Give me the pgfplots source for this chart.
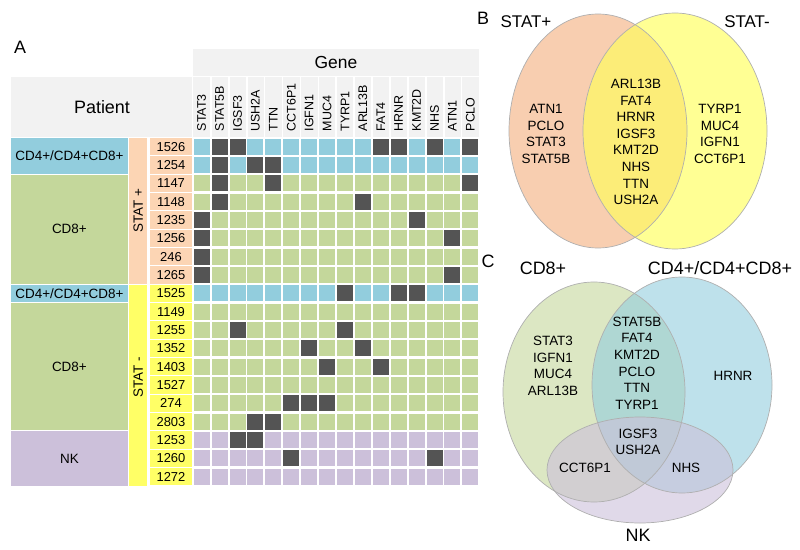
\documentclass[border=0pt]{standalone}
\usepackage{pgfplots}
\usepackage{pgfplotstable}
\pgfplotsset{compat=1.18}
\usepackage{fontspec}
\setmainfont{Liberation Sans}
\definecolor{cblue}{RGB}{146,205,221}
\definecolor{cgreen}{RGB}{196,215,155}
\definecolor{cpurple}{RGB}{204,192,218}
\definecolor{cdark}{RGB}{84,84,84}
\definecolor{cpeach}{RGB}{252,213,180}
\definecolor{cyellow}{RGB}{255,255,102}
\definecolor{chead}{RGB}{242,242,242}
\definecolor{vpeach}{RGB}{248,206,176}
\definecolor{vyellow}{RGB}{255,255,90}
\definecolor{vgreen}{RGB}{196,215,155}
\definecolor{vblue}{RGB}{146,205,221}
\definecolor{vpurple}{RGB}{204,192,218}
\definecolor{vedge}{RGB}{175,175,175}

% heatmap: b = CD4 (blue), g = CD8 (green), p = NK (purple), d = mutated (dark)
\pgfplotstableread{
r c0 c1 c2 c3 c4 c5 c6 c7 c8 c9 c10 c11 c12 c13 c14 c15
0 b d d b b b b b b b d d b d b d
1 b d b d d b b b b b b b b b b b
2 g d g g d g g g g g g g g g g d
3 g d g g g g g g g d g g g g g g
4 d g g g g g g g g g g g d g g g
5 d g g g g g g g g g g g g g d g
6 d g g g g g g g g g g g g g g g
7 d g g g g g g g g g g g g g d g
8 b b b b b b b b d b b d d b b b
9 g g g g g g g g g g g g g g g g
10 g g d g g g g g d g g g g g g g
11 g g g g g g d g g d g g g g g g
12 g g g g g g g d g g d g g g g g
13 g g g g g g g g g g g g g g g g
14 g g g g g d d d g g g g g g g g
15 g g g d d g g g g g g g g g g g
16 p p d d p p p p p p p p p p p p
17 p p p p p d p p p p p p p d p p
18 p p p p p p p p p p p p p p p p
}\cells

\newcommand{\fs}[2]{\fontsize{#1}{#2}\selectfont}

\begin{document}
\begin{tikzpicture}
\begin{axis}[
  width=800bp, height=550bp, scale only axis,
  xmin=0, xmax=800, ymin=0, ymax=550, y dir=reverse,
  hide axis, clip=false,
]
\path (axis cs:0,0) rectangle (axis cs:800,550);

% ---------- Panel A ----------
\node[font=\fs{18}{20}] at (axis cs:20,47) {A};
% gene header
\fill[chead] (axis cs:193,49) rectangle (axis cs:479,76);
\node[font=\fs{17.5}{20}] at (axis cs:336,62.5) {Gene};
\fill[chead] (axis cs:193,77.5) rectangle (axis cs:479,136.8);
\pgfplotsinvokeforeach{1,...,15}{
  \draw[white, line width=1.6bp] (axis cs:{193+17.91*#1},77.5) -- (axis cs:{193+17.91*#1},136.8);
}
% patient header
\fill[chead] (axis cs:11,77.5) rectangle (axis cs:191.7,136.8);
\node[font=\fs{18}{20}] at (axis cs:102,107) {Patient};

% gene labels
\pgfplotsforeachungrouped \j/\g in {0/STAT3,1/STAT5B,2/IGSF3,3/USH2A,4/TTN,5/CCT6P1,6/IGFN1,7/MUC4,8/TYRP1,9/ARL13B,10/FAT4,11/HRNR,12/KMT2D,13/NHS,14/ATN1,15/PCLO}{
  \edef\tmp{\noexpand\node[rotate=90, anchor=west, inner sep=0pt, font=\noexpand\fs{12.5}{14}] at (axis cs:{201.7+17.91*\j},131.5) {\g};}
  \tmp
}

% cell type column
\fill[cblue]   (axis cs:11,138.1) rectangle (axis cs:127.7,173.6);
\fill[cgreen]  (axis cs:11,174.8) rectangle (axis cs:127.7,283.6);
\fill[cblue]   (axis cs:11,284.7) rectangle (axis cs:127.7,301.9);
\fill[cgreen]  (axis cs:11,303.1) rectangle (axis cs:127.7,430.3);
\fill[cpurple] (axis cs:11,431.4) rectangle (axis cs:127.7,486.0);
\node[font=\fs{13.5}{16}] at (axis cs:69.4,155.8) {CD4+/CD4+CD8+};
\node[font=\fs{13.5}{16}] at (axis cs:69.4,229.2) {CD8+};
\node[font=\fs{13.5}{16}] at (axis cs:69.4,293.3) {CD4+/CD4+CD8+};
\node[font=\fs{13.5}{16}] at (axis cs:69.4,366.7) {CD8+};
\node[font=\fs{13.5}{16}] at (axis cs:69.4,458.7) {NK};

% STAT column
\fill[cpeach]  (axis cs:129,138.1) rectangle (axis cs:147.3,283.6);
\fill[cyellow] (axis cs:129,284.7) rectangle (axis cs:147.3,486.0);
\node[rotate=90, font=\fs{13.5}{16}] at (axis cs:138.3,210.5) {STAT +};
\node[rotate=90, font=\fs{13.5}{16}] at (axis cs:138.3,377) {STAT -};

% patient IDs
\pgfplotsforeachungrouped \i/\p in {0/1526,1/1254,2/1147,3/1148,4/1235,5/1256,6/246,7/1265}{
  \edef\tmp{\noexpand\fill[cpeach] (axis cs:150,{146.7+18.33*\i-8.6}) rectangle (axis cs:191.7,{146.7+18.33*\i+8.6});
  \noexpand\node[font=\noexpand\fs{13}{16}] at (axis cs:171,{146.7+18.33*\i}) {\p};}
  \tmp
}
\pgfplotsforeachungrouped \i/\p in {8/1525,9/1149,10/1255,11/1352,12/1403,13/1527,14/274,15/2803,16/1253,17/1260,18/1272}{
  \edef\tmp{\noexpand\fill[cyellow] (axis cs:150,{146.7+18.33*\i-8.6}) rectangle (axis cs:191.7,{146.7+18.33*\i+8.6});
  \noexpand\node[font=\noexpand\fs{13}{16}] at (axis cs:171,{146.7+18.33*\i}) {\p};}
  \tmp
}

% heatmap cells
\pgfplotsinvokeforeach{0,...,15}{
\addplot[scatter, only marks, mark=square*, mark size=8.5bp,
  point meta=explicit symbolic,
  scatter/classes={
    b={mark=square*, draw=white, line width=0.9bp, fill=cblue},
    g={mark=square*, draw=white, line width=0.9bp, fill=cgreen},
    p={mark=square*, draw=white, line width=0.9bp, fill=cpurple},
    d={mark=square*, draw=white, line width=0.9bp, fill=cdark}}]
  table[x expr={201.7+17.91*#1}, y expr={146.7+18.33*\thisrow{r}}, meta=c#1]{\cells};
}

% ---------- Panel B ----------
\node[font=\fs{18}{20}] at (axis cs:483,18) {B};
\fill[vpeach] (axis cs:598,131) ellipse [x radius=89bp, y radius=117bp];
\fill[vyellow, fill opacity=0.65] (axis cs:675,131) ellipse [x radius=92bp, y radius=118bp];
\draw[vedge, line width=0.7bp] (axis cs:598,131) ellipse [x radius=89bp, y radius=117bp];
\draw[vedge, line width=0.7bp] (axis cs:675,131) ellipse [x radius=92bp, y radius=118bp];
\node[font=\fs{17}{20}] at (axis cs:526,22) {STAT+};
\node[font=\fs{17}{20}] at (axis cs:747,22) {STAT-};
\node[align=center, font=\fs{13.5}{16.7}] at (axis cs:546,134) {ATN1\\PCLO\\STAT3\\STAT5B};
\node[align=center, font=\fs{13.5}{16.7}] at (axis cs:636,142) {ARL13B\\FAT4\\HRNR\\IGSF3\\KMT2D\\NHS\\TTN\\USH2A};
\node[align=center, font=\fs{13.5}{16.7}] at (axis cs:720,134) {TYRP1\\MUC4\\IGFN1\\CCT6P1};

% ---------- Panel C ----------
\node[font=\fs{18}{20}] at (axis cs:488,261) {C};
\fill[vgreen, fill opacity=0.6] (axis cs:594,392) ellipse [x radius=91bp, y radius=110bp];
\fill[vblue, fill opacity=0.6] (axis cs:682,385) ellipse [x radius=90bp, y radius=108bp];
\fill[vpurple, fill opacity=0.6] (axis cs:640,470) ellipse [x radius=93bp, y radius=53bp];
\draw[vedge, line width=0.7bp] (axis cs:594,392) ellipse [x radius=91bp, y radius=110bp];
\draw[vedge, line width=0.7bp] (axis cs:682,385) ellipse [x radius=90bp, y radius=108bp];
\draw[vedge, line width=0.7bp] (axis cs:640,470) ellipse [x radius=93bp, y radius=53bp];
\node[font=\fs{18}{20}] at (axis cs:543,268) {CD8+};
\node[font=\fs{18}{20}] at (axis cs:720,268) {CD4+/CD4+CD8+};
\node[font=\fs{18}{20}] at (axis cs:638,535) {NK};
\node[align=center, font=\fs{13.5}{16.7}] at (axis cs:553,366) {STAT3\\IGFN1\\MUC4\\ARL13B};
\node[align=center, font=\fs{13.5}{16.7}] at (axis cs:637,363) {STAT5B\\FAT4\\KMT2D\\PCLO\\TTN\\TYRP1};
\node[font=\fs{13.5}{16.7}] at (axis cs:733,376) {HRNR};
\node[align=center, font=\fs{13.5}{16.7}] at (axis cs:638,442) {IGSF3\\USH2A};
\node[font=\fs{13.5}{16.7}] at (axis cs:585,468) {CCT6P1};
\node[font=\fs{13.5}{16.7}] at (axis cs:686,468) {NHS};
\end{axis}
\end{tikzpicture}
\end{document}
